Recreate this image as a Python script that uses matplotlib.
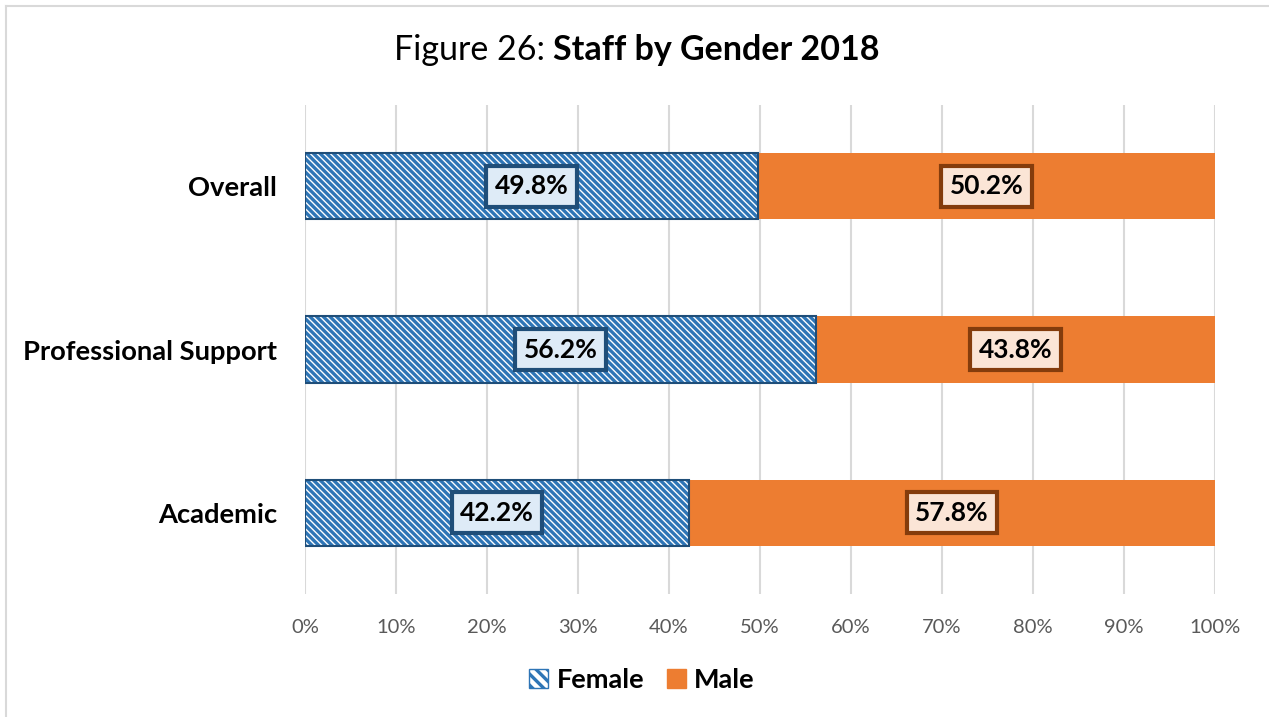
import numpy as np
import matplotlib.pyplot as plt
from matplotlib.lines import Line2D
from matplotlib.patches import Patch

plt.rcParams['font.family'] = ['Lato', 'DejaVu Sans']
plt.rcParams['hatch.linewidth'] = 2.4

categories = ["Academic", "Professional Support", "Overall"]
female = [42.2, 56.2, 49.8]
male = [57.8, 43.8, 50.2]
xticks = [0, 10, 20, 30, 40, 50, 60, 70, 80, 90, 100]

blue = "#2E75B6"
blue_dark = "#1F4E79"
orange = "#ED7D31"
brown = "#843C0C"
hatch = "\\" * 5

fig = plt.figure(figsize=(12.69, 7.17), dpi=100)
ax = fig.add_axes([0.2403, 0.1715, 0.7171, 0.6821])

y = np.arange(len(categories))
ax.barh(y, female, height=0.405, color="white", edgecolor=blue, hatch=hatch,
        linewidth=0, zorder=2)
ax.barh(y, female, height=0.405, color="none", edgecolor=blue_dark, linewidth=1.5, zorder=3)
ax.barh(y, male, left=female, height=0.405, color=orange, linewidth=0, zorder=2)

for i in range(len(categories)):
    ax.text(female[i] / 2, y[i], f"{female[i]:.1f}%", ha="center", va="center",
            fontsize=19, fontweight="bold", color="black", zorder=5,
            bbox=dict(boxstyle="square,pad=0.32", fc="#DEEBF7", ec=blue_dark, lw=3))
    ax.text(female[i] + male[i] / 2, y[i], f"{male[i]:.1f}%", ha="center", va="center",
            fontsize=19, fontweight="bold", color="black", zorder=5,
            bbox=dict(boxstyle="square,pad=0.32", fc="#FBE5D6", ec=brown, lw=3))

ax.set_xlim(0, 100)
ax.set_ylim(-0.5, 2.5)
ax.set_xticks(xticks)
ax.set_xticklabels([f"{t}%" for t in xticks], fontsize=14.5, color="#595959")
ax.set_yticks(y)
ax.set_yticklabels(categories, fontsize=19.7, fontweight="bold", color="black")
ax.tick_params(axis="x", length=0, pad=18)
ax.tick_params(axis="y", length=0, pad=20)
ax.grid(axis="x", color="#D9D9D9", linewidth=1.5, zorder=0)
ax.set_axisbelow(True)
for s in ax.spines.values():
    s.set_visible(False)

fig.text(0.436, 0.930, "Figure 26: ", ha="right", va="center", fontsize=24.5)
fig.text(0.436, 0.930, "Staff by Gender 2018", ha="left", va="center", fontsize=24.5,
         fontweight="bold")

handles = [Patch(facecolor="white", edgecolor=blue, hatch="\\\\\\", label="Female"),
           Patch(facecolor=orange, edgecolor=orange, label="Male")]
leg = fig.legend(handles=handles, loc="center", bbox_to_anchor=(0.506, 0.051), ncol=2,
                 frameon=False, prop={"size": 19.5, "weight": "bold"},
                 handlelength=0.7, handleheight=0.7, columnspacing=0.85, handletextpad=0.3)

fig.add_artist(Line2D([6 / 1269, 6 / 1269], [0, 1 - 6 / 717], transform=fig.transFigure,
                      color="#D9D9D9", lw=1.5))
fig.add_artist(Line2D([6 / 1269, 1], [1 - 6 / 717, 1 - 6 / 717], transform=fig.transFigure,
                      color="#D9D9D9", lw=1.5))

fig.savefig("out.png", dpi=100)
